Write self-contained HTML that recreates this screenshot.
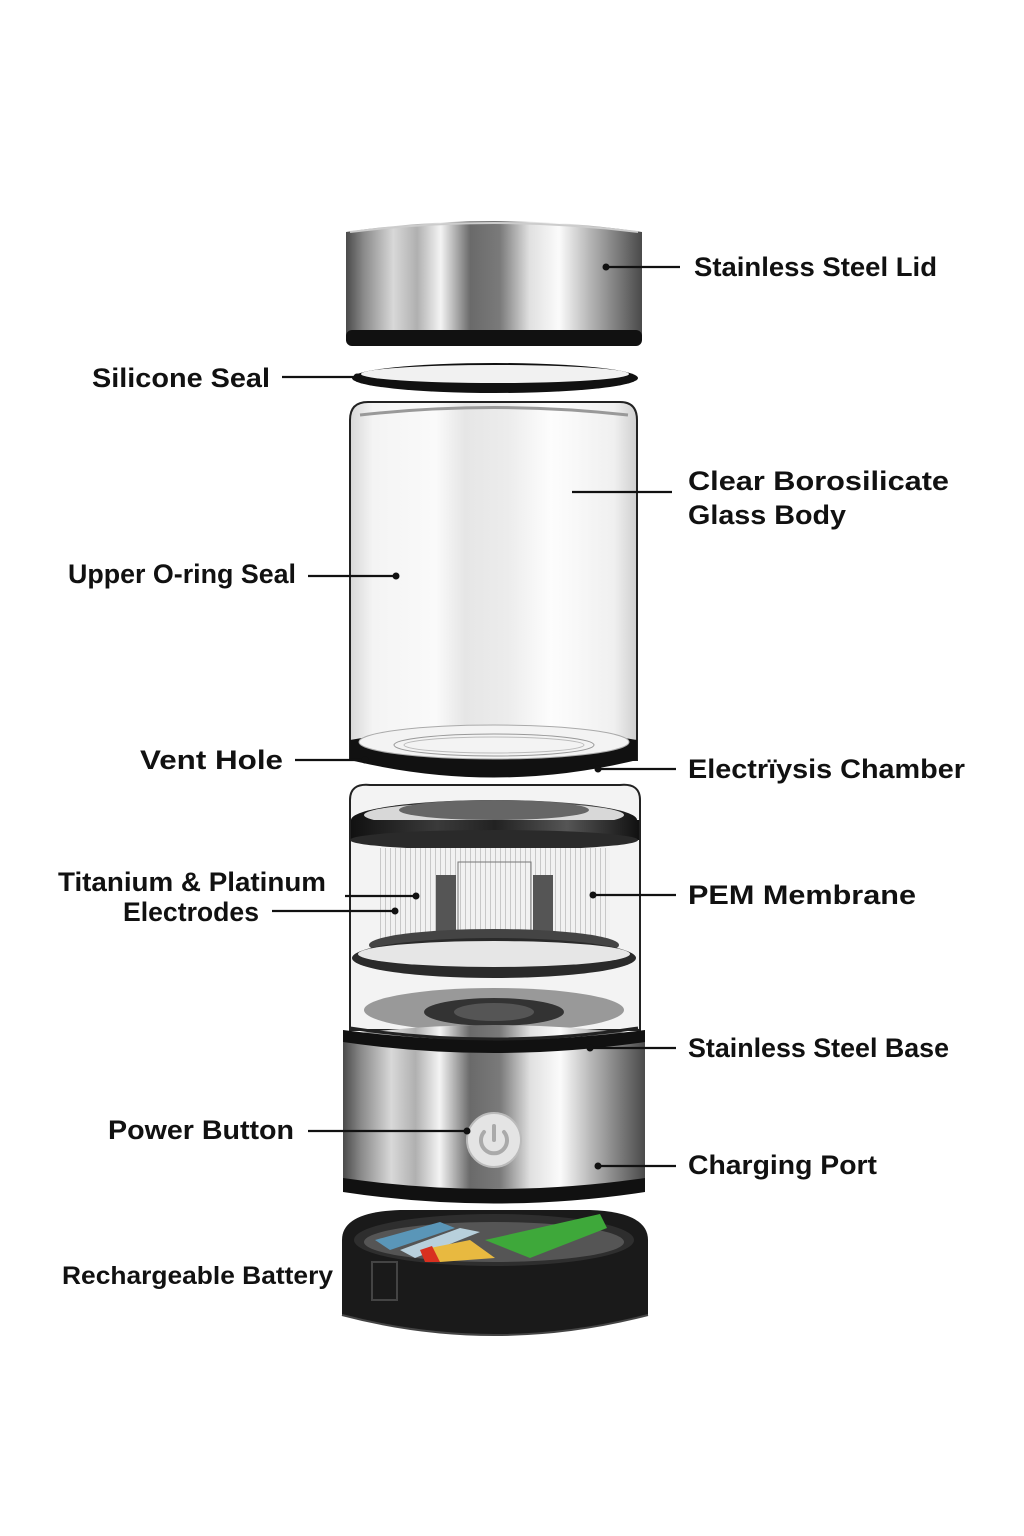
<!DOCTYPE html>
<html><head><meta charset="utf-8"><style>
html,body{margin:0;padding:0;background:#fff;}
svg{display:block;}
text{font-family:"Liberation Sans","DejaVu Sans",sans-serif;font-weight:bold;fill:#111;}
</style></head><body>
<svg width="1024" height="1536" viewBox="0 0 1024 1536" xmlns="http://www.w3.org/2000/svg">
<defs>
<linearGradient id="steel" x1="0" x2="1" y1="0" y2="0">
<stop offset="0" stop-color="#4a4a4a"/><stop offset=".06" stop-color="#8a8a8a"/>
<stop offset=".16" stop-color="#d8d8d8"/><stop offset=".24" stop-color="#b0b0b0"/>
<stop offset=".32" stop-color="#f4f4f4"/><stop offset=".42" stop-color="#6a6a6a"/>
<stop offset=".52" stop-color="#7a7a7a"/><stop offset=".62" stop-color="#e0e0e0"/>
<stop offset=".72" stop-color="#fbfbfb"/><stop offset=".82" stop-color="#b8b8b8"/>
<stop offset=".92" stop-color="#7a7a7a"/><stop offset="1" stop-color="#4a4a4a"/>
</linearGradient>
<linearGradient id="glass" x1="0" x2="1">
<stop offset="0" stop-color="#d8d8d8"/><stop offset=".08" stop-color="#f4f4f4"/>
<stop offset=".3" stop-color="#fafafa"/><stop offset=".4" stop-color="#e6e6e6"/>
<stop offset=".55" stop-color="#ececec"/><stop offset=".7" stop-color="#fdfdfd"/>
<stop offset=".92" stop-color="#f0f0f0"/><stop offset="1" stop-color="#cfcfcf"/>
</linearGradient>
<linearGradient id="dark" x1="0" x2="1">
<stop offset="0" stop-color="#111"/><stop offset=".3" stop-color="#3a3a3a"/>
<stop offset=".5" stop-color="#222"/><stop offset=".75" stop-color="#555"/><stop offset="1" stop-color="#111"/>
</linearGradient>
<pattern id="stripes" width="5" height="10" patternUnits="userSpaceOnUse">
<rect width="5" height="10" fill="#f2f2f2"/><rect width="1" height="10" fill="#c8c8c8"/>
</pattern>
</defs>

<!-- Lid -->
<path d="M346 232 Q494 210 642 232 L642 338 Q642 346 630 346 L358 346 Q346 346 346 338 Z" fill="url(#steel)"/>
<rect x="346" y="330" width="296" height="16" rx="6" fill="#111"/>
<path d="M350 232 Q494 214 638 232" stroke="#ccc" stroke-width="2" fill="none"/>

<!-- Silicone seal -->
<ellipse cx="495" cy="378" rx="143" ry="15" fill="#111"/>
<ellipse cx="495" cy="374" rx="134" ry="9" fill="#f1f1f1"/>

<!-- Glass body -->
<path d="M350 420 Q350 402 368 402 L620 402 Q637 402 637 420 L637 760 L350 760 Z" fill="url(#glass)" stroke="#222" stroke-width="2"/>
<path d="M360 415 Q494 400 628 415" stroke="#999" stroke-width="3" fill="none"/>
<path d="M350 740 Q494 715 637 740 L637 760 Q494 795 350 760 Z" fill="#111"/>
<ellipse cx="494" cy="742" rx="135" ry="17" fill="#f3f3f3" stroke="#aaa"/>
<ellipse cx="494" cy="745" rx="100" ry="11" fill="none" stroke="#999"/>
<ellipse cx="494" cy="745" rx="90" ry="8" fill="none" stroke="#bbb"/>

<!-- Chamber glass -->
<path d="M350 800 Q350 783 370 785 L620 785 Q640 783 640 800 L640 1030 L350 1030 Z" fill="#f3f3f3" stroke="#222" stroke-width="2"/>
<ellipse cx="494" cy="820" rx="143" ry="20" fill="url(#dark)"/>
<ellipse cx="494" cy="815" rx="130" ry="13" fill="#d8d8d8"/>
<ellipse cx="494" cy="810" rx="95" ry="10" fill="#666"/>
<rect x="351" y="820" width="288" height="20" fill="url(#dark)"/>
<ellipse cx="494" cy="840" rx="144" ry="10" fill="#2a2a2a"/>
<!-- electrodes -->
<rect x="380" y="848" width="230" height="92" fill="url(#stripes)"/>
<rect x="436" y="875" width="20" height="70" fill="#555"/>
<rect x="533" y="875" width="20" height="70" fill="#555"/>
<rect x="458" y="862" width="73" height="82" fill="url(#stripes)" stroke="#777"/>
<ellipse cx="494" cy="945" rx="125" ry="16" fill="#444"/>
<ellipse cx="494" cy="958" rx="142" ry="20" fill="#2a2a2a"/>
<ellipse cx="494" cy="954" rx="136" ry="13" fill="#e6e6e6"/>
<ellipse cx="494" cy="1010" rx="130" ry="22" fill="#999"/>
<ellipse cx="494" cy="1012" rx="70" ry="14" fill="#333"/>
<ellipse cx="494" cy="1012" rx="40" ry="9" fill="#555"/>

<!-- Steel base -->
<path d="M343 1035 Q494 1015 645 1035 L645 1190 Q494 1215 343 1190 Z" fill="url(#steel)"/>
<path d="M343 1030 Q494 1050 645 1030 L645 1042 Q494 1064 343 1042 Z" fill="#111"/>
<path d="M350 1028 Q494 1050 638 1028" stroke="#222" stroke-width="3" fill="none"/>
<path d="M343 1178 Q494 1200 645 1178 L645 1192 Q494 1215 343 1192 Z" fill="#111"/>
<circle cx="494" cy="1140" r="27" fill="#e4e4e4" stroke="#bbb" stroke-width="2"/>
<path d="M484 1132 A13 13 0 1 0 504 1132" stroke="#aaa" stroke-width="4" fill="none" stroke-linecap="round"/>
<line x1="494" y1="1126" x2="494" y2="1140" stroke="#aaa" stroke-width="4" stroke-linecap="round"/>

<!-- Battery tray -->
<path d="M342 1240 Q342 1212 400 1210 L590 1210 Q648 1212 648 1240 L648 1315 Q494 1355 342 1315 Z" fill="#1a1a1a"/>
<ellipse cx="494" cy="1240" rx="140" ry="26" fill="#2e2e2e"/>
<ellipse cx="494" cy="1242" rx="130" ry="20" fill="#555"/>
<polygon points="375,1240 440,1222 455,1228 390,1250" fill="#5a96b8"/>
<polygon points="400,1250 460,1228 480,1232 415,1258" fill="#b8d0dc"/>
<polygon points="420,1250 470,1240 495,1258 440,1262" fill="#e8b940"/>
<polygon points="420,1250 432,1246 440,1262 425,1262" fill="#d83020"/>
<polygon points="485,1240 600,1214 607,1228 530,1258" fill="#3ea83a"/>
<rect x="372" y="1262" width="25" height="38" fill="none" stroke="#444" stroke-width="2"/>
<path d="M342 1315 Q494 1355 648 1315" stroke="#444" stroke-width="2" fill="none"/>

<!-- connectors -->
<g stroke="#111" stroke-width="2.2" fill="none">
<line x1="606" y1="267" x2="680" y2="267"/>
<line x1="282" y1="377" x2="355" y2="377"/>
<line x1="572" y1="492" x2="672" y2="492"/>
<line x1="308" y1="576" x2="396" y2="576"/>
<line x1="295" y1="760" x2="365" y2="760"/>
<line x1="598" y1="769" x2="676" y2="769"/>
<line x1="345" y1="896" x2="416" y2="896"/>
<line x1="272" y1="911" x2="395" y2="911"/>
<line x1="593" y1="895" x2="676" y2="895"/>
<line x1="590" y1="1048" x2="676" y2="1048"/>
<line x1="308" y1="1131" x2="467" y2="1131"/>
<line x1="598" y1="1166" x2="676" y2="1166"/>
</g>
<g fill="#111">
<circle cx="606" cy="267" r="3.5"/><circle cx="357" cy="377" r="3.5"/>
<circle cx="396" cy="576" r="3.5"/><circle cx="365" cy="760" r="3.5"/>
<circle cx="598" cy="769" r="3.5"/><circle cx="416" cy="896" r="3.5"/>
<circle cx="395" cy="911" r="3.5"/><circle cx="593" cy="895" r="3.5"/>
<circle cx="590" cy="1048" r="3.5"/><circle cx="467" cy="1131" r="3.5"/>
<circle cx="598" cy="1166" r="3.5"/>
</g>

<!-- labels -->
<g font-size="27">
<text x="694" y="276" textLength="243" lengthAdjust="spacingAndGlyphs">Stainless Steel Lid</text>
<text x="92" y="387" textLength="178" lengthAdjust="spacingAndGlyphs">Silicone Seal</text>
<text x="688" y="490" textLength="261" lengthAdjust="spacingAndGlyphs">Clear Borosilicate</text>
<text x="688" y="524" textLength="158" lengthAdjust="spacingAndGlyphs">Glass Body</text>
<text x="68" y="583" textLength="228" lengthAdjust="spacingAndGlyphs">Upper O-ring Seal</text>
<text x="140" y="769" textLength="143" lengthAdjust="spacingAndGlyphs">Vent Hole</text>
<text x="688" y="778" textLength="277" lengthAdjust="spacingAndGlyphs">Electrïysis Chamber</text>
<text x="58" y="891" textLength="268" lengthAdjust="spacingAndGlyphs">Titanium &amp; Platinum</text>
<text x="123" y="921" textLength="136" lengthAdjust="spacingAndGlyphs">Electrodes</text>
<text x="688" y="904" textLength="228" lengthAdjust="spacingAndGlyphs">PEM Membrane</text>
<text x="688" y="1057" textLength="261" lengthAdjust="spacingAndGlyphs">Stainless Steel Base</text>
<text x="108" y="1139" textLength="186" lengthAdjust="spacingAndGlyphs">Power Button</text>
<text x="688" y="1174" textLength="189" lengthAdjust="spacingAndGlyphs">Charging Port</text>
<text x="62" y="1284" font-size="25" textLength="271" lengthAdjust="spacingAndGlyphs">Rechargeable Battery</text>
</g>
</svg>
</body></html>
